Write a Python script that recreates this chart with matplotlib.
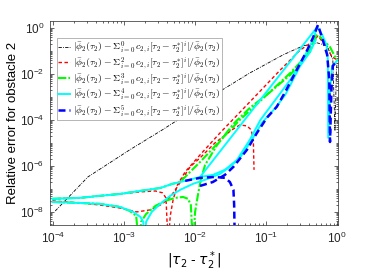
import numpy as np
import matplotlib.pyplot as plt
from matplotlib.font_manager import FontProperties
from matplotlib.ticker import LogLocator, NullFormatter

plt.rcParams['font.family'] = ['Liberation Sans', 'DejaVu Sans']

# values, stored as log10 of |tau2 - tau2*| and of the error
# (-9.5 marks a dip that goes below the bottom of the axes)

# order 0
lx_k = [-3.97, -3.51, -2.92, -2.46, -1.89, -1.62, -1.23, -0.76, -0.48, -0.28, -0.14, -0.06, -0.03, -0.01, 0.00]
ly_k = [-7.96, -6.48, -5.30, -4.43, -3.30, -2.70, -1.96, -1.17, -0.78, -0.65, -0.78, -1.39, -4.48, -1.87, -1.52]

# order 2
lx_r1 = [-4.01, -3.62, -3.34, -3.06, -2.78, -2.56, -2.46, -2.41, -2.38, -2.35, -2.31, -2.25, -2.14, -1.93,
         -1.65, -1.23, -0.80, -0.52, -0.35, -0.27, -0.17, -0.07, 0.00]
ly_r1 = [-7.43, -7.39, -7.30, -7.22, -7.13, -7.09, -7.17, -7.39, -9.5, -8.17, -7.48, -6.83, -6.26, -5.52,
         -4.57, -3.22, -1.83, -0.96, -0.61, -0.35, -0.74, -1.26, -1.39]
lx_r2 = [-4.01, -3.62, -3.34, -3.06, -2.82, -2.63, -2.49, -2.39, -2.32, -2.25, -2.07, -1.93, -1.72,
         -1.48, -1.37, -1.27, -1.21, -1.18, -1.17]
ly_r2 = [-7.52, -7.61, -7.70, -7.83, -8.00, -7.91, -7.70, -7.48, -7.22, -6.91, -6.04, -5.65, -5.00,
         -4.43, -4.22, -4.26, -4.43, -4.87, -6.17]

# order 3
lx_g1 = [-4.01, -3.62, -3.34, -3.06, -2.78, -2.49, -2.32, -2.21, -2.07, -1.93, -1.65, -1.37, -1.08,
         -0.66, -0.38, -0.31, -0.24, -0.10, 0.00]
ly_g1 = [-7.43, -7.39, -7.30, -7.22, -7.09, -6.96, -6.78, -6.70, -6.26, -5.83, -4.91, -4.00, -3.17,
         -1.96, -1.04, -0.30, -0.39, -0.83, -1.43]
lx_g2 = [-4.01, -3.62, -3.34, -3.06, -2.92, -2.83, -2.79, -2.76, -2.69, -2.56, -2.42, -2.28, -2.17,
         -2.10, -2.06, -2.03, -2.00, -1.96, -1.92, -1.86, -1.69, -1.46, -1.23, -0.94, -0.66, -0.45,
         -0.34, -0.30]
ly_g2 = [-7.57, -7.61, -7.65, -7.78, -7.96, -8.17, -9.5, -8.43, -8.09, -7.74, -7.52, -7.39, -7.35,
         -7.43, -7.70, -9.5, -8.00, -7.26, -6.61, -5.96, -5.09, -4.17, -3.48, -2.78, -2.04, -1.30,
         -0.74, -0.35]

# order 4
lx_c1 = [-4.01, -3.62, -3.34, -3.06, -2.78, -2.49, -2.32, -2.14, -1.93, -1.75, -1.58, -1.41, -1.23,
         -1.08, -0.87, -0.66, -0.45, -0.34, -0.28, -0.21, -0.15, -0.13, -0.125, -0.10, -0.07, 0.00]
ly_c1 = [-7.43, -7.39, -7.30, -7.22, -7.09, -6.96, -6.78, -6.65, -6.48, -6.39, -6.17, -5.74, -4.87,
         -4.00, -3.13, -2.26, -1.17, -0.52, 0.04, -0.30, -0.74, -1.39, -4.78, -2.70, -1.65, -1.43]
lx_c2 = [-4.01, -3.62, -3.34, -3.06, -2.87, -2.77, -2.73, -2.72, -2.69, -2.61, -2.49, -2.35, -2.21,
         -2.03, -1.83, -1.65, -1.51, -1.37, -1.20, -1.06, -0.87, -0.73, -0.52, -0.38, -0.30]
ly_c2 = [-7.57, -7.61, -7.65, -7.78, -8.00, -8.22, -8.43, -9.5, -8.43, -8.00, -7.65, -7.30, -7.04,
         -6.78, -6.57, -6.35, -6.04, -5.65, -4.87, -4.13, -3.48, -2.91, -1.65, -1.04, -0.52]
lx_c3 = [-1.93, -0.28]
ly_c3 = [-6.48, 0.04]

# order 5
lx_b1 = [-2.14, -1.93, -1.72, -1.58, -1.51, -1.46, -1.45, -1.44]
ly_b1 = [-6.65, -6.52, -6.48, -6.52, -6.70, -7.04, -7.70, -9.5]
lx_b2 = [-1.93, -1.75, -1.58, -1.46, -1.27, -1.13, -0.99, -0.85, -0.73, -0.62, -0.42, -0.34, -0.27,
         -0.21, -0.14, -0.11, -0.10, -0.08, -0.06, 0.00]
ly_b2 = [-6.87, -6.70, -6.39, -6.04, -5.30, -4.57, -3.91, -3.43, -2.78, -2.13, -0.96, -0.43, 0.13,
         -0.43, -1.17, -2.26, -4.96, -2.70, -1.65, -1.43]

orders = [0, 2, 3, 4, 5]
labels = [r'$|\bar{\phi}_2(\tau_2) - \Sigma_{i=0}^{%d}\, c_{2,i}[\tau_2 - \tau_2^{*}]^i|/\bar{\phi}_2(\tau_2)$' % n
          for n in orders]
xticks = [1e-4, 1e-3, 1e-2, 1e-1, 1e0]
yticks = [1e-8, 1e-6, 1e-4, 1e-2, 1e0]


def p(v):
    return 10.0 ** np.array(v)


fig = plt.figure(figsize=(3.74, 2.78), dpi=100)
ax = fig.add_axes([0.134, 0.191, 0.770, 0.732])

ax.plot(p(lx_k), p(ly_k), color='k', lw=0.6, dashes=(4, 1.5, 1, 1.5), label=labels[0])
ax.plot(p(lx_r1), p(ly_r1), color='r', lw=1.0, dashes=(2.5, 1.8), label=labels[1])
ax.plot(p(lx_r2), p(ly_r2), color='r', lw=1.0, dashes=(2.5, 1.8))
ax.plot(p(lx_g1), p(ly_g1), color=(0, 1, 0), lw=1.5, dashes=(4, 1, 1, 1), label=labels[2])
ax.plot(p(lx_g2), p(ly_g2), color=(0, 1, 0), lw=1.5, dashes=(4, 1, 1, 1))
ax.plot(p(lx_c1), p(ly_c1), color=(0, 1, 1), lw=1.4, label=labels[3])
ax.plot(p(lx_c2), p(ly_c2), color=(0, 1, 1), lw=1.4)
ax.plot(p(lx_c3), p(ly_c3), color=(0, 1, 1), lw=1.4)
ax.plot(p(lx_b1), p(ly_b1), color='b', lw=1.8, dashes=(2.8, 1.6), label=labels[4])
ax.plot(p(lx_b2), p(ly_b2), color='b', lw=1.8, dashes=(2.8, 1.6))

ax.set_xscale('log')
ax.set_yscale('log')
ax.set_xlim(10 ** -4.042, 10 ** 0.014)
ax.set_ylim(10 ** -8.565, 10 ** 0.283)

ax.set_xticks(xticks)
ax.set_yticks(yticks)
ax.xaxis.set_minor_locator(LogLocator(base=10, subs=np.arange(2, 10), numticks=20))
ax.xaxis.set_minor_formatter(NullFormatter())
ax.yaxis.set_minor_locator(LogLocator(base=10, subs=np.arange(1, 10), numticks=20))
ax.yaxis.set_minor_formatter(NullFormatter())

for s in ax.spines.values():
    s.set_linewidth(0.5)
    s.set_color('0.15')
ax.tick_params(which='both', direction='in', top=True, right=True, colors='0.15', width=0.5)
ax.tick_params(which='major', length=3, labelsize=8.5, pad=4)
ax.tick_params(which='minor', length=1.5)

ax.set_ylabel('Relative error for obstacle 2', fontsize=9.5, labelpad=1)
ax.set_xlabel(r'$|\tau_2$ - $\tau_2^*|$', fontsize=10, labelpad=3)

leg = ax.legend(loc='upper left', bbox_to_anchor=(0.024, 0.919), borderaxespad=0,
                prop=FontProperties(family='DejaVu Sans', size=7, math_fontfamily='cm'),
                handlelength=1.2, handletextpad=0.3, labelspacing=-0.05,
                borderpad=0.15, fancybox=False, framealpha=1, edgecolor='0.6')
leg.get_frame().set_linewidth(0.5)

fig.savefig('out.png', dpi=100)
